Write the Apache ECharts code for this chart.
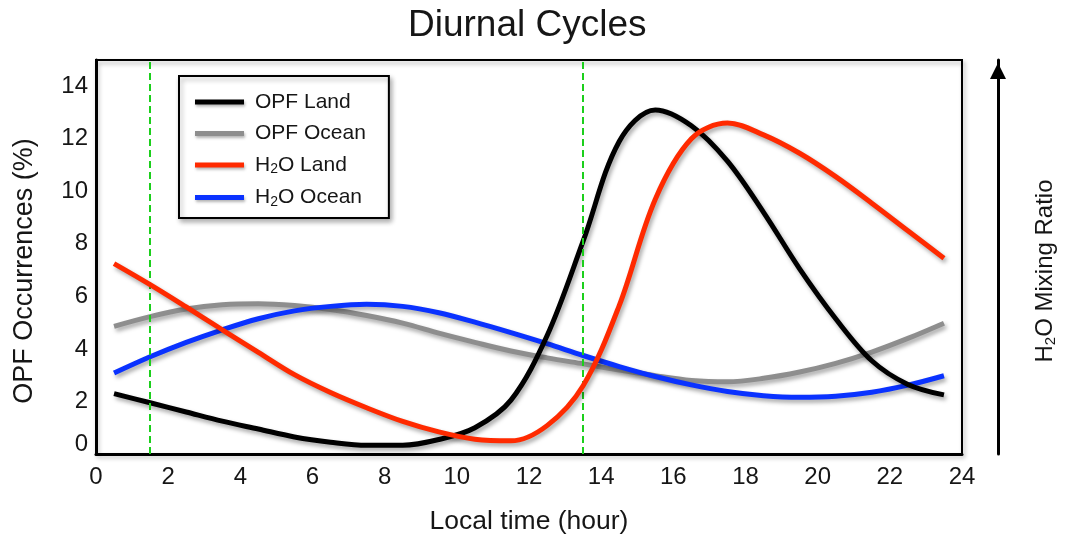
<!DOCTYPE html>
<html>
<head>
<meta charset="utf-8">
<script src="https://cdn.jsdelivr.net/npm/echarts@6/dist/echarts.min.js"></script>
<style>
  html, body { margin: 0; padding: 0; background: #fff; }
  #chart { width: 1066px; height: 541px; }
</style>
</head>
<body>
<div id="chart"></div>
<script>
// Hourly bins (local time, hour centre)
const hours = [0.5, 1.5, 2.5, 3.5, 4.5, 5.5, 6.5, 7.5, 8.5, 9.5, 10.5, 11.5,
               12.5, 13.5, 14.5, 15.5, 16.5, 17.5, 18.5, 19.5, 20.5, 21.5, 22.5, 23.5];

// OPF occurrences (%) and H2O mixing ratio (relative scale)
const opfLand  = [2.3, 1.95, 1.6, 1.25, 0.95, 0.65, 0.45, 0.33, 0.33, 0.55, 1.0, 2.05,
                  4.5, 8.1, 11.9, 13.1, 12.5, 11.15, 9.2, 7.05, 5.15, 3.55, 2.65, 2.25];
const opfOcean = [4.86, 5.23, 5.52, 5.68, 5.72, 5.65, 5.5, 5.27, 4.98, 4.6, 4.25, 3.92,
                  3.66, 3.43, 3.2, 2.98, 2.8, 2.75, 2.88, 3.12, 3.45, 3.88, 4.4, 4.98];
const h2oLand  = [7.25, 6.45, 5.6, 4.73, 3.87, 3.02, 2.34, 1.76, 1.24, 0.84, 0.56, 0.5,
                  1.08, 2.6, 5.65, 9.7, 12.0, 12.6, 12.15, 11.45, 10.56, 9.55, 8.5, 7.45];
const h2oOcean = [3.08, 3.7, 4.25, 4.73, 5.15, 5.45, 5.62, 5.7, 5.62, 5.38, 5.02, 4.62,
                  4.2, 3.75, 3.33, 2.95, 2.63, 2.38, 2.22, 2.16, 2.2, 2.35, 2.62, 2.98];

const seriesNames  = ['OPF Land', 'OPF Ocean', 'H2O Land', 'H2O Ocean'];
const seriesColors = ['#000000', '#8e8e8e', '#ff2a00', '#0a32ff'];
const seriesZ      = [4, 2, 5, 3];

// Reference times marked by dashed verticals
const markerHours = [1.5, 13.5];

const FONT = '"Liberation Sans", Arial, Helvetica, sans-serif';
const TEXT = '#161616';

// Render "H2O" with a subscript 2 in rich text
function richH2O(label) {
  if (label.indexOf('H2O') === 0) {
    return '{t|H}{s|2}{t|O' + label.slice(3) + '}';
  }
  return '{t|' + label + '}';
}

const lineShadow = {
  shadowColor: 'rgba(0,0,0,0.35)',
  shadowBlur: 4,
  shadowOffsetX: 2,
  shadowOffsetY: 3
};

const allValues = [opfLand, opfOcean, h2oLand, h2oOcean];

const series = seriesNames.map((name, i) => ({
  name: name,
  type: 'line',
  data: hours.map((h, k) => [h, allValues[i][k]]),
  smooth: 0.34,
  showSymbol: false,
  symbol: 'none',
  z: seriesZ[i],
  color: seriesColors[i],
  itemStyle: { color: seriesColors[i] },
  lineStyle: Object.assign({ color: seriesColors[i], width: 5 }, lineShadow),
  emphasis: { disabled: true }
}));

// Dashed markers drawn on top of the curves
series.push({
  name: 'markers',
  type: 'line',
  data: [],
  z: 10,
  markLine: {
    silent: true,
    symbol: 'none',
    label: { show: false },
    lineStyle: { color: '#1ccf1c', width: 2, type: [7, 4] },
    data: markerHours.map(h => ({ xAxis: h }))
  }
});

const chart = echarts.init(document.getElementById('chart'), null, { renderer: 'canvas' });

chart.setOption({
  animation: false,
  backgroundColor: '#ffffff',
  textStyle: { fontFamily: FONT, color: TEXT },
  title: {
    text: 'Diurnal Cycles',
    left: 403,
    top: 2,
    textStyle: { fontFamily: FONT, fontSize: 37, fontWeight: 'normal', color: TEXT }
  },
  grid: {
    left: 96, right: 100, top: 60, bottom: 87,
    show: true,
    borderColor: '#000',
    borderWidth: 2,
    backgroundColor: 'transparent',
    shadowColor: 'rgba(0,0,0,0.3)',
    shadowBlur: 4,
    shadowOffsetX: 2,
    shadowOffsetY: 3
  },
  legend: {
    data: seriesNames,
    orient: 'vertical',
    left: 179,
    top: 76,
    icon: 'rect',
    itemWidth: 49,
    itemHeight: 5,
    itemGap: 10.5,
    padding: [15.5, 23, 9, 16],
    borderColor: '#000',
    borderWidth: 2,
    backgroundColor: '#fff',
    shadowColor: 'rgba(0,0,0,0.3)',
    shadowBlur: 5,
    shadowOffsetX: 2,
    shadowOffsetY: 3,
    selectedMode: false,
    itemStyle: { shadowColor: 'rgba(0,0,0,0.3)', shadowBlur: 3, shadowOffsetX: 1, shadowOffsetY: 2 },
    formatter: richH2O,
    textStyle: {
      padding: [0, 0, 0, 6],
      rich: {
        t: { fontFamily: FONT, fontSize: 21, lineHeight: 23, color: TEXT },
        s: { fontFamily: FONT, fontSize: 14, lineHeight: 12, verticalAlign: 'bottom', color: TEXT }
      }
    }
  },
  xAxis: {
    type: 'value',
    min: 0, max: 24, interval: 2,
    name: 'Local time (hour)',
    nameLocation: 'middle',
    nameGap: 54,
    nameTextStyle: { fontFamily: FONT, fontSize: 26.5, color: TEXT },
    axisLine: { show: true, onZero: false, lineStyle: { color: '#000', width: 3 } },
    axisTick: { show: false },
    splitLine: { show: false },
    axisLabel: { fontFamily: FONT, fontSize: 24, color: TEXT, margin: 11 }
  },
  yAxis: [
    {
      type: 'value',
      min: 0, max: 15, interval: 2,
      name: 'OPF Occurrences (%)',
      nameLocation: 'middle',
      nameRotate: 90,
      nameGap: 58,
      nameTextStyle: { fontFamily: FONT, fontSize: 27, color: TEXT, padding: [0, 28, 0, 0] },
      axisLine: { show: true, onZero: false, lineStyle: { color: '#000', width: 3 } },
      axisTick: { show: false },
      splitLine: { show: false },
      axisLabel: {
        fontFamily: FONT, fontSize: 24, color: TEXT, margin: 8,
        showMaxLabel: false,
        formatter: v => (v === 0 ? '{z|0}' : String(v)),
        rich: { z: { fontFamily: FONT, fontSize: 24, color: TEXT, padding: [0, 0, 20, 0] } }
      }
    },
    {
      type: 'value',
      position: 'right',
      offset: 36,
      min: 0, max: 15,
      name: richH2O('H2O Mixing Ratio'),
      nameLocation: 'middle',
      nameRotate: 90,
      nameGap: 34,
      nameTextStyle: {
        padding: [0, 28, 0, 0],
        rich: {
          t: { fontFamily: FONT, fontSize: 24, lineHeight: 26, color: TEXT },
          s: { fontFamily: FONT, fontSize: 15, lineHeight: 12, verticalAlign: 'bottom', color: TEXT }
        }
      },
      axisLine: {
        show: true,
        onZero: false,
        symbol: ['none', 'triangle'],
        symbolSize: [16, 16],
        symbolOffset: [0, -11],
        lineStyle: { color: '#000', width: 3 }
      },
      axisTick: { show: false },
      axisLabel: { show: false },
      splitLine: { show: false }
    }
  ],
  series: series
});
</script>
</body>
</html>
